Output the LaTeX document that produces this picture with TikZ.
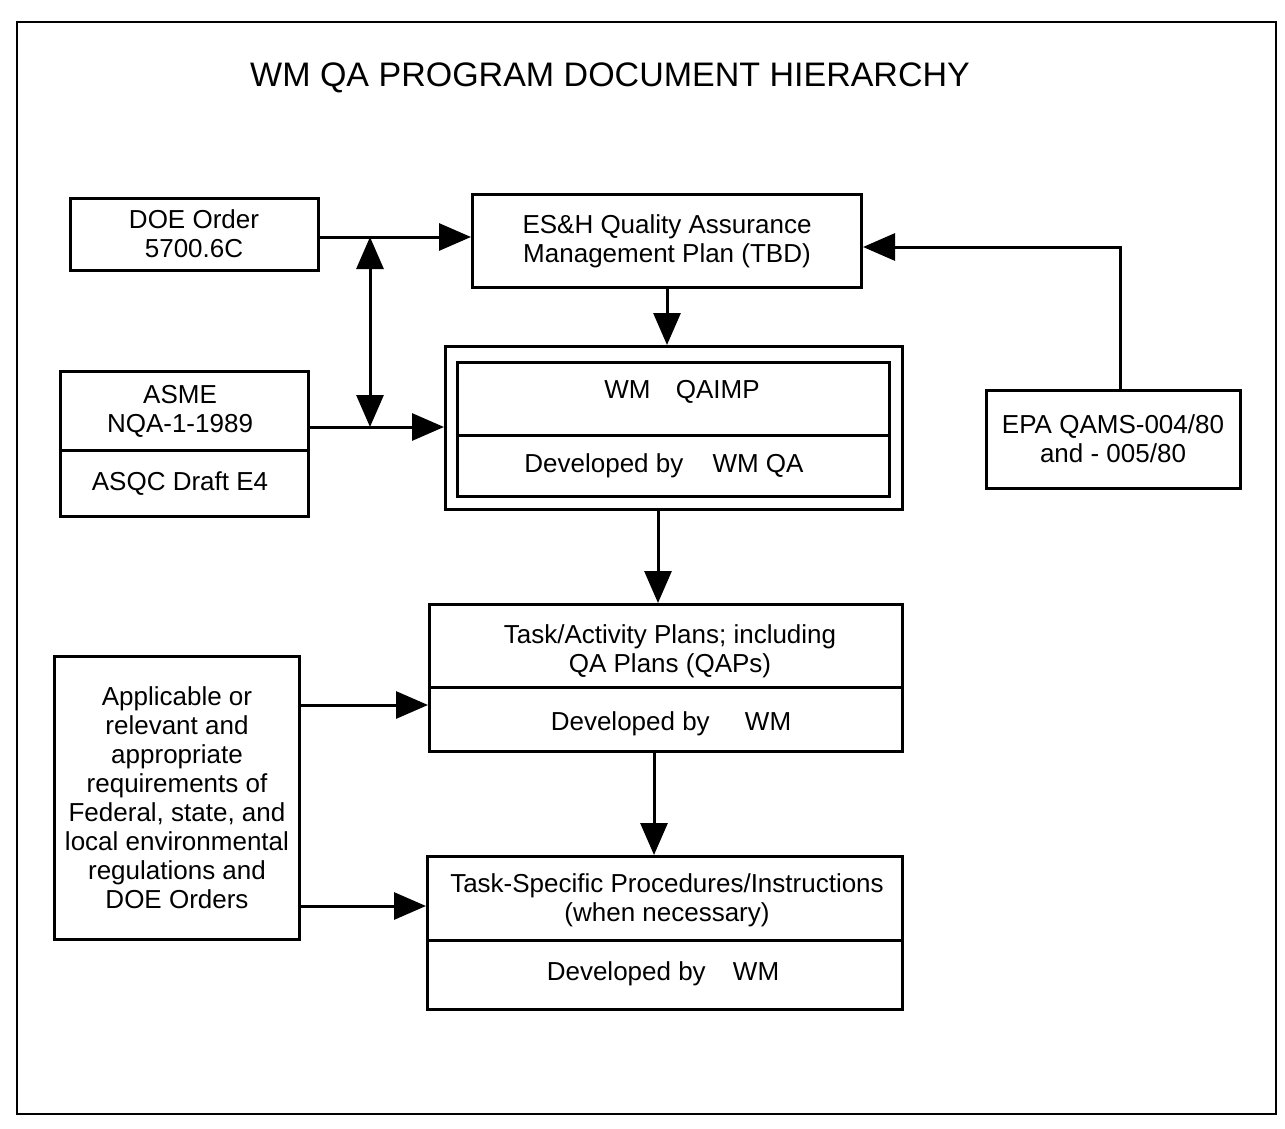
\documentclass[tikz,border=0pt]{standalone}
\usepackage{fontspec}
\setmainfont{Liberation Sans}
\usetikzlibrary{arrows.meta}
\begin{document}
\begin{tikzpicture}[x=1pt,y=-1pt,
  box/.style={draw, line width=3pt, inner sep=0pt},
  txt/.style={font=\fontsize{26}{29}\selectfont, align=center, inner sep=0pt},
  divider/.style={line width=3pt},
  arr/.style={line width=3pt, -{Triangle[length=32pt,width=27pt]}},
  darr/.style={line width=3pt, {Triangle[length=32pt,width=27pt]}-{Triangle[length=32pt,width=27pt]}}]
\fill[white] (0,0) rectangle (1285,1129);
\useasboundingbox (0,0) rectangle (1285,1129);

% outer frame
\node[draw, line width=2.5pt, inner sep=0pt, minimum width=1259pt, minimum height=1092pt] (frame) at (646.5,568) {};

% title
\node[font=\fontsize{34}{40}\selectfont, inner sep=0pt] (title) at (610,78) {WM QA PROGRAM DOCUMENT HIERARCHY};

% DOE Order
\node[box, txt, minimum width=248pt, minimum height=72pt] (doe) at (194,234) {DOE Order\\5700.6C};

% ES&H
\node[box, txt, minimum width=389pt, minimum height=93pt] (esh) at (667,241) {ES\&H Quality Assurance\\Management Plan (TBD)};

% ASME
\node[box, minimum width=248pt, minimum height=145pt] (asme) at (184,444) {};
\draw[divider] (asme.west |- 0,450) -- (asme.east |- 0,450);
\node[txt] (asme1) at (180,411) {ASME\\NQA-1-1989};
\node[txt] (asme2) at (180,484) {ASQC Draft E4};

% WM QAIMP (double box)
\node[box, minimum width=457pt, minimum height=163pt] (qout) at (674,428) {};
\node[box, minimum width=432pt, minimum height=134pt] (qin) at (673,429) {};
\draw[divider] (qin.west |- 0,435) -- (qin.east |- 0,435);
\node[txt] (q1) at (682,392) {WM\hspace{18pt} QAIMP};
\node[txt] (q2) at (664,466) {Developed by\hspace{22pt} WM QA};

% EPA
\node[box, txt, minimum width=254pt, minimum height=98pt] (epa) at (1113,439) {EPA QAMS-004/80\\and - 005/80};

% Task/Activity Plans
\node[box, minimum width=473pt, minimum height=147pt] (task) at (666,678) {};
\draw[divider] (task.west |- 0,687) -- (task.east |- 0,687);
\node[txt] (task1) at (670,651) {Task/Activity Plans; including\\QA Plans (QAPs)};
\node[txt] (task2) at (671,724) {Developed by\hspace{28pt} WM};

% Applicable
\node[box, txt, minimum width=245pt, minimum height=283pt] (app) at (177,798) {Applicable or\\relevant and\\appropriate\\requirements of\\Federal, state, and\\local environmental\\regulations and\\DOE Orders};

% Task-Specific
\node[box, minimum width=475pt, minimum height=153pt] (tsp) at (665,933) {};
\draw[divider] (tsp.west |- 0,940) -- (tsp.east |- 0,940);
\node[txt] (tsp1) at (667,900) {Task-Specific Procedures/Instructions\\(when necessary)};
\node[txt] (tsp2) at (663,974) {Developed by\hspace{20pt} WM};

% connectors
\coordinate (j1) at (370,237);
\coordinate (j2) at (370,427);
\coordinate (e1) at (1120,247);
\coordinate (c1) at (667,0);
\coordinate (c2) at (658,0);
\coordinate (c3) at (654,0);
\coordinate (a1) at (0,705);
\coordinate (a2) at (0,906);

\draw[arr] (doe.east |- j1) -- (esh.west |- j1);
\draw[arr] (asme.east |- j2) -- (qout.west |- j2);
\draw[darr] (j1) -- (j2);
\draw[arr] (epa.north -| e1) -- (e1) -- (esh.east |- e1);
\draw[arr] (esh.south -| c1) -- (qout.north -| c1);
\draw[arr] (qout.south -| c2) -- (task.north -| c2);
\draw[arr] (task.south -| c3) -- (tsp.north -| c3);
\draw[arr] (app.east |- a1) -- (task.west |- a1);
\draw[arr] (app.east |- a2) -- (tsp.west |- a2);
\end{tikzpicture}
\end{document}
